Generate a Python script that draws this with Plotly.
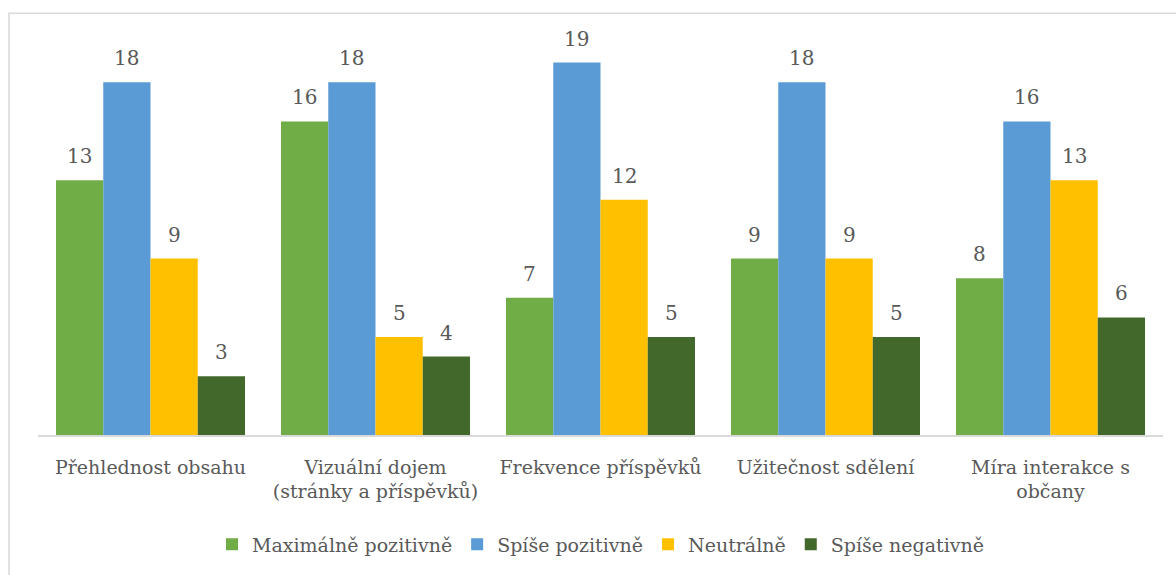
import plotly.graph_objects as go

categories = ["Přehlednost obsahu", "Vizuální dojem<br>(stránky a příspěvků)",
              "Frekvence příspěvků", "Užitečnost sdělení", "Míra interakce s<br>občany"]
max_pozitivne = [13, 16, 7, 9, 8]
spise_pozitivne = [18, 18, 19, 18, 16]
neutralne = [9, 5, 12, 9, 13]
spise_negativne = [3, 4, 5, 5, 6]

series = [
    ("Maximálně pozitivně", max_pozitivne, "#70AD47"),
    ("Spíše pozitivně", spise_pozitivne, "#5B9BD5"),
    ("Neutrálně", neutralne, "#FFC000"),
    ("Spíše negativně", spise_negativne, "#43682B"),
]

FONT = "DejaVu Serif"
TXT = "#595959"

W, H = 1176, 575
L, R, T, B = 38, 13, 43, 138
pw, ph = W - L - R, H - T - B
BARGAP = 0.16
n_series = len(series)
bar_px = pw / len(categories) * (1 - BARGAP) / n_series

fig = go.Figure()
annotations = []
for i, (name, vals, col) in enumerate(series):
    fig.add_trace(go.Bar(
        x=categories, y=vals, name=name, marker=dict(color=col, line=dict(width=0)),
    ))
    # value labels above each bar, shifted to the bar's slot within the group
    for cat, v in zip(categories, vals):
        annotations.append(dict(
            x=cat, y=v, xref="x", yref="y", text=str(v), showarrow=False,
            xshift=(i - (n_series - 1) / 2) * bar_px, yshift=24,
            yanchor="middle", xanchor="center",
            font=dict(family=FONT, size=20, color=TXT),
        ))

def px_x(p):
    return (p - L) / pw

def px_y(p):
    return (H - B - p) / ph

fig.update_layout(
    width=W, height=H,
    margin=dict(l=L, r=R, t=T, b=B),
    plot_bgcolor="white", paper_bgcolor="white",
    barmode="group", bargap=BARGAP, bargroupgap=0,
    font=dict(family=FONT, size=19, color=TXT),
    xaxis=dict(showline=True, linecolor="#D9D9D9", linewidth=1.5, ticks="",
               ticklabelstandoff=14,
               tickfont=dict(family=FONT, size=19, color=TXT), showgrid=False),
    yaxis=dict(range=[0, 20], visible=False, showgrid=False),
    legend=dict(orientation="h", x=0.5, xanchor="center", y=px_y(547), yanchor="middle",
                font=dict(family=FONT, size=19, color=TXT), itemwidth=30, traceorder="normal"),
    showlegend=True,
    annotations=annotations,
    shapes=[dict(type="rect", xref="paper", yref="paper",
                 x0=px_x(9), x1=px_x(1190), y0=px_y(590), y1=px_y(13),
                 line=dict(color="#D9D9D9", width=1.5), fillcolor="rgba(0,0,0,0)", layer="below")],
)

fig.write_html("out.html")
